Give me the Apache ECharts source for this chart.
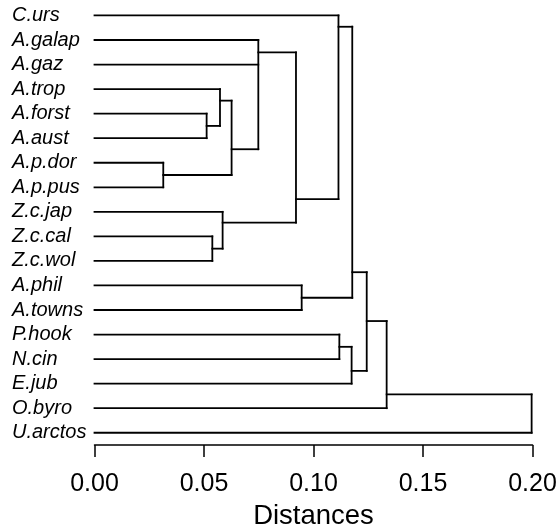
<!DOCTYPE html>
<html>
<head>
<meta charset="utf-8">
<script src="https://cdn.jsdelivr.net/npm/echarts@6/dist/echarts.min.js"></script>
<style>
html,body{margin:0;padding:0;background:#fff;}
#chart{width:560px;height:528px;}
</style>
</head>
<body>
<div id="chart"></div>
<script>
// Leaves, top to bottom
const leaves = ['C.urs','A.galap','A.gaz','A.trop','A.forst','A.aust','A.p.dor','A.p.pus','Z.c.jap','Z.c.cal','Z.c.wol','A.phil','A.towns','P.hook','N.cin','E.jub','O.byro','U.arctos'];
// Internal nodes: children (leaf names or node indices)
const nodeChildren = [
  ['A.forst','A.aust'],
  ['A.trop', 0],
  ['A.p.dor','A.p.pus'],
  [1, 2],
  ['A.galap','A.gaz', 3],
  ['Z.c.cal','Z.c.wol'],
  ['Z.c.jap', 5],
  [4, 6],
  ['C.urs', 7],
  ['A.phil','A.towns'],
  [8, 9],
  ['P.hook','N.cin'],
  [11, 'E.jub'],
  [10, 12],
  [13, 'O.byro'],
  [14, 'U.arctos']
];
// Merge distances
const nodeHeights = [0.0512, 0.0573, 0.0314, 0.0626, 0.0748, 0.0538, 0.0585, 0.0920, 0.1114, 0.0946, 0.1177, 0.1118, 0.1174, 0.1243, 0.1334, 0.1996];
// Vertical position (in leaf units) where each node's branch leaves, as drawn
const nodeAnchors = [4.5, 3.47, 6.5, 5.45, 1.5, 9.5, 8.44, 7.48, 0.46, 11.5, 10.46, 13.5, 14.48, 12.45, 15.44, 16.5];
const xTicks = [0, 0.05, 0.10, 0.15, 0.20];

function childPos(c){
  if (typeof c === 'string') return {x: 0, y: leaves.indexOf(c)};
  return {x: nodeHeights[c], y: nodeAnchors[c]};
}
const segments = [];
nodeChildren.forEach((ch, i) => {
  const h = nodeHeights[i];
  const ps = ch.map(childPos);
  const ys = ps.map(p => p.y);
  segments.push([h, Math.min(...ys), h, Math.max(...ys)]);
  ps.forEach(p => segments.push([p.x, p.y, h, p.y]));
});

const chart = echarts.init(document.getElementById('chart'), null, {renderer: 'canvas'});
const FONT = 'Liberation Sans, Arial, Helvetica, sans-serif';
chart.setOption({
  backgroundColor: '#ffffff',
  animation: false,
  grid: {left: 94.5, width: 438, top: 3.2, height: 441.8, containLabel: false, outerBoundsMode: 'none'},
  xAxis: {
    type: 'value', min: xTicks[0], max: xTicks[xTicks.length - 1], interval: 0.05,
    position: 'bottom',
    name: 'Distances', nameLocation: 'middle', nameGap: 57,
    nameTextStyle: {fontSize: 27.5, color: '#000', fontFamily: FONT},
    axisLine: {show: true, onZero: false, lineStyle: {color: '#000', width: 1.5}},
    axisTick: {show: true, length: 12, inside: false, lineStyle: {color: '#000', width: 1.5}},
    axisLabel: {fontSize: 25, color: '#000', fontFamily: FONT, margin: 27, showMinLabel: true, showMaxLabel: true,
      formatter: v => v.toFixed(2)},
    splitLine: {show: false}
  },
  yAxis: [{
    type: 'category', data: leaves, inverse: true, boundaryGap: true,
    axisLine: {show: false}, axisTick: {show: false}, splitLine: {show: false},
    axisLabel: {fontSize: 20, fontStyle: 'italic', color: '#000', fontFamily: FONT, align: 'left', margin: 82.5, interval: 0}
  }, {
    type: 'value', min: -0.5, max: 17.5, inverse: true, show: false
  }],
  series: [{
    type: 'custom',
    yAxisIndex: 1,
    data: segments,
    encode: {x: [0, 2], y: [1, 3]},
    renderItem: function(params, api){
      const p1 = api.coord([api.value(0), api.value(1)]);
      const p2 = api.coord([api.value(2), api.value(3)]);
      return {type: 'line', shape: {x1: p1[0], y1: p1[1], x2: p2[0], y2: p2[1]},
        style: {stroke: '#000', lineWidth: 1.8, lineCap: 'square'}};
    },
    silent: true
  }]
});
</script>
</body>
</html>
